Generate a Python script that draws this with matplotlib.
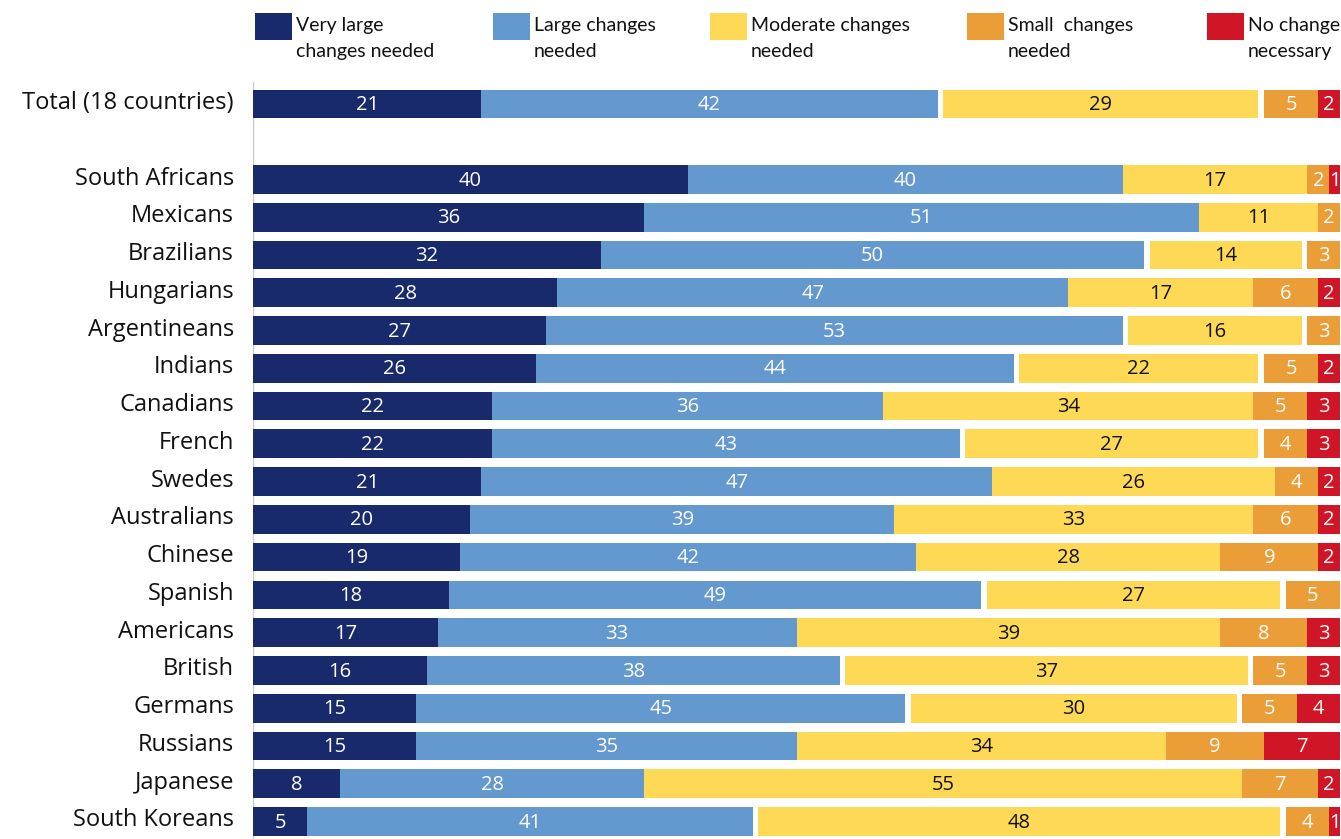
import matplotlib.pyplot as plt
from matplotlib.patches import Rectangle
import numpy as np

# survey shares (%) per group, top row is the 18-country total
groups = ["Total (18 countries)", "South Africans", "Mexicans", "Brazilians", "Hungarians",
          "Argentineans", "Indians", "Canadians", "French", "Swedes", "Australians",
          "Chinese", "Spanish", "Americans", "British", "Germans", "Russians",
          "Japanese", "South Koreans"]
very_large = [21, 40, 36, 32, 28, 27, 26, 22, 22, 21, 20, 19, 18, 17, 16, 15, 15, 8, 5]
large = [42, 40, 51, 50, 47, 53, 44, 36, 43, 47, 39, 42, 49, 33, 38, 45, 35, 28, 41]
moderate = [29, 17, 11, 14, 17, 16, 22, 34, 27, 26, 33, 28, 27, 39, 37, 30, 34, 55, 48]
small = [5, 2, 2, 3, 6, 3, 5, 5, 4, 4, 6, 9, 5, 8, 5, 5, 9, 7, 4]
no_change = [2, 1, 0, 0, 2, 0, 2, 3, 3, 2, 2, 2, 0, 3, 3, 4, 7, 2, 1]

series_names = [("Very large", "changes needed"), ("Large changes", "needed"),
                ("Moderate changes", "needed"), ("Small  changes", "needed"),
                ("No change", "necessary")]
colors = ["#182a6b", "#6499cf", "#fdd955", "#eb9e37", "#cf1526"]
text_colors = ["white", "white", "#111111", "white", "white"]

W, H = 1341, 839
fig = plt.figure(figsize=(W / 100, H / 100), dpi=100)

# row positions: blank row between the total and the countries
rows = np.array([0] + list(range(2, 2 + len(groups) - 1)), dtype=float)
row_px = 37.76
top_px = 104
ax = fig.add_axes([253 / W, 0, (1340 - 253) / W, 1])
ax.set_xlim(0, 100)
ax.set_ylim((H - top_px) / row_px, -top_px / row_px)
ax.axis("off")
ax.axvline(0, ymin=0, ymax=(H - 82) / H, color="#c8c8c8", linewidth=1, zorder=0)

vl = np.array(very_large, float)
lg = np.array(large, float)
md = np.array(moderate, float)
sm = np.array(small, float)
nc = np.array(no_change, float)

# left block from 0, right block flush to 100, moderate centred in between
gap = (100 - (vl + lg + md + sm + nc)) / 2
lefts = [np.zeros_like(vl), vl, vl + lg + gap, 100 - nc - sm, 100 - nc]
widths = [vl, lg, md, sm, nc]

h = 0.76
for k in range(5):
    ax.barh(rows, widths[k], left=lefts[k], height=h, color=colors[k], linewidth=0, zorder=2)
    for y, l, w in zip(rows, lefts[k], widths[k]):
        if w > 0:
            ax.text(l + w / 2, y + 0.03, f"{int(w)}", ha="center", va="center",
                    fontsize=14.5, color=text_colors[k], family="Open Sans", zorder=3)

for y, name in zip(rows, groups):
    fig.text(234 / W, 1 - (top_px - 1 + y * row_px) / H, name, ha="right", va="center",
             fontsize=17, color="#111111", family="Open Sans")

# legend across the top, two text lines per entry
leg_x = [255, 493, 710, 967, 1207]
for x, (line1, line2), c in zip(leg_x, series_names, colors):
    fig.patches.append(Rectangle((x / W, 1 - 40 / H), 37 / W, 27 / H,
                                 transform=fig.transFigure, color=c, linewidth=0))
    fig.text((x + 41) / W, 1 - 31 / H, line1, ha="left", va="baseline", fontsize=14,
             color="#111111", family="Lato")
    fig.text((x + 41) / W, 1 - 57 / H, line2, ha="left", va="baseline", fontsize=14,
             color="#111111", family="Lato")

fig.savefig("out.png", dpi=100, facecolor="white")
